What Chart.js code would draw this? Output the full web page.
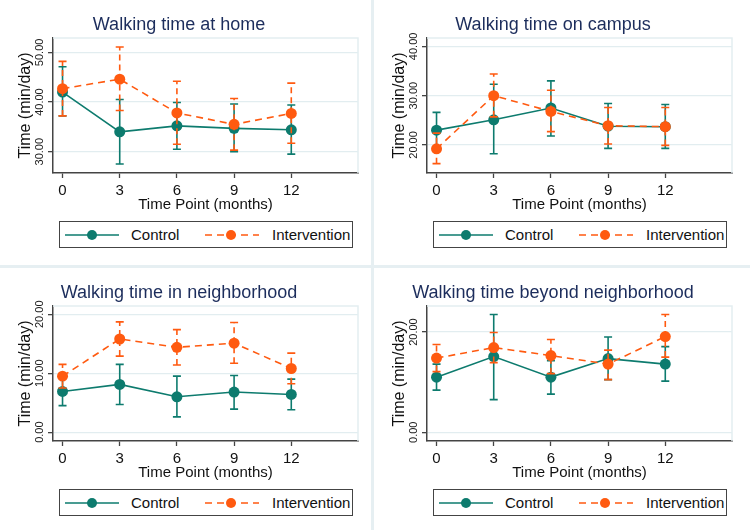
<!DOCTYPE html>
<html><head><meta charset="utf-8">
<script src="https://cdn.jsdelivr.net/npm/chart.js@4"></script>
<style>
html,body{margin:0;padding:0;background:#fff;}
#wrap{position:relative;width:750px;height:530px;overflow:hidden;background:#fff;font-family:"Liberation Sans",Arial,sans-serif;}
.panel{position:absolute;width:375px;height:265px;}
.panel canvas{position:absolute;left:0;top:0;}
.legend{position:absolute;left:59px;top:221px;width:292px;height:25px;border:1px solid #444;background:#fff;}
.legend span{position:absolute;top:3px;font-size:15px;color:#111;line-height:19px;white-space:nowrap;}
.legend svg{position:absolute;top:7px;}
.sep{position:absolute;background:#e6eff2;}
</style></head>
<body>
<div id="wrap">
  <div class="sep" style="left:371px;top:0;width:3px;height:530px;"></div>
  <div class="sep" style="left:0;top:265px;width:750px;height:3px;"></div>
</div>
<script>
const timePoints = [0, 3, 6, 9, 12];

const homeCtrl   = [42.0, 34.0, 35.2, 34.7, 34.4];
const homeCtrlLo = [37.2, 27.5, 30.5, 30.0, 29.5];
const homeCtrlHi = [47.1, 40.5, 39.9, 39.6, 39.4];
const homeInt    = [42.7, 44.6, 37.8, 35.5, 37.7];
const homeIntLo  = [37.2, 38.3, 31.5, 30.3, 31.7];
const homeIntHi  = [48.2, 51.1, 44.2, 40.7, 43.8];

const campusCtrl   = [23.0, 25.1, 27.5, 23.8, 23.7];
const campusCtrlLo = [19.4, 18.2, 21.8, 19.3, 19.3];
const campusCtrlHi = [26.6, 32.3, 33.0, 28.4, 28.2];
const campusInt    = [19.2, 30.0, 26.8, 23.9, 23.7];
const campusIntLo  = [16.2, 25.7, 22.7, 20.2, 19.9];
const campusIntHi  = [22.4, 34.4, 31.1, 27.6, 27.6];

const nbhdCtrl   = [6.9, 8.1, 6.0, 6.8, 6.4];
const nbhdCtrlLo = [4.5, 4.7, 2.6, 3.9, 3.8];
const nbhdCtrlHi = [9.4, 11.5, 9.5, 9.6, 9.0];
const nbhdInt    = [9.5, 15.8, 14.4, 15.1, 10.8];
const nbhdIntLo  = [7.5, 12.9, 11.4, 11.7, 8.2];
const nbhdIntHi  = [11.5, 18.7, 17.4, 18.6, 13.4];

const beyCtrl   = [11.0, 15.1, 11.0, 14.7, 13.6];
const beyCtrlLo = [8.4, 6.5, 7.6, 10.5, 10.2];
const beyCtrlHi = [13.6, 23.5, 14.3, 19.0, 17.1];
const beyInt    = [14.8, 16.9, 15.3, 13.6, 19.1];
const beyIntLo  = [12.1, 13.9, 11.7, 10.5, 15.0];
const beyIntHi  = [17.5, 19.9, 18.5, 16.4, 23.5];

const homeTicks = [30, 40, 50];
const campusTicks = [20, 30, 40];
const nbhdTicks = [0, 10, 20];
const beyTicks = [0, 20];

const seriesNames = ['Control', 'Intervention'];
const xTitle = 'Time Point (months)';
const yTitle = 'Time (min/day)';

const TEAL = '#0d7b6e';
const ORANGE = '#ff5a10';
const FONT = '"Liberation Sans", Arial, sans-serif';
Chart.defaults.font.family = FONT;

const errorBars = {
  id: 'errorBars',
  beforeDatasetDraw(chart, args) {
    const ds = chart.data.datasets[args.index];
    if (!ds.errLo) return;
    const ctx = chart.ctx, xs = chart.scales.x, ys = chart.scales.y;
    ctx.save();
    ctx.strokeStyle = ds.borderColor;
    ctx.lineWidth = 1.6;
    const dash = ds.borderDash || [];
    ds.data.forEach((p, i) => {
      const px = xs.getPixelForValue(p.x);
      const lo = ys.getPixelForValue(ds.errLo[i]);
      const hi = ys.getPixelForValue(ds.errHi[i]);
      ctx.setLineDash(dash.length ? [6, 4] : []);
      ctx.beginPath(); ctx.moveTo(px, lo); ctx.lineTo(px, hi); ctx.stroke();
      ctx.setLineDash([]);
      ctx.beginPath();
      ctx.moveTo(px - 4, lo); ctx.lineTo(px + 4, lo);
      ctx.moveTo(px - 4, hi); ctx.lineTo(px + 4, hi);
      ctx.stroke();
    });
    ctx.restore();
  }
};

const plotFrame = {
  id: 'plotFrame',
  beforeDatasetsDraw(chart) {
    const {ctx, chartArea: a} = chart;
    ctx.save();
    ctx.strokeStyle = '#e4eef1';
    ctx.lineWidth = 1.5;
    ctx.beginPath();
    ctx.moveTo(a.left, a.top); ctx.lineTo(a.right, a.top); ctx.lineTo(a.right, a.bottom);
    ctx.stroke();
    ctx.restore();
  }
};

function legendHTML() {
  return '<div class="legend">' +
    '<svg style="left:5px" width="54" height="12"><line x1="0" y1="6" x2="54" y2="6" stroke="' + TEAL + '" stroke-width="1.6"/><circle cx="27" cy="6" r="5" fill="' + TEAL + '"/></svg>' +
    '<span style="left:71px">' + seriesNames[0] + '</span>' +
    '<svg style="left:145px" width="54" height="12"><line x1="0" y1="6" x2="54" y2="6" stroke="' + ORANGE + '" stroke-width="1.6" stroke-dasharray="7,5"/><circle cx="26" cy="6" r="5" fill="' + ORANGE + '"/></svg>' +
    '<span style="left:212px">' + seriesNames[1] + '</span>' +
    '</div>';
}

function makePanel(left, top, title, yMin, yMax, yTicks, c, cLo, cHi, iv, iLo, iHi) {
  const wrap = document.getElementById('wrap');
  const div = document.createElement('div');
  div.className = 'panel';
  div.style.left = left + 'px';
  div.style.top = top + 'px';
  div.innerHTML = '<canvas width="375" height="265"></canvas>' + legendHTML();
  wrap.appendChild(div);
  const canvas = div.querySelector('canvas');
  new Chart(canvas, {
    type: 'line',
    data: {
      datasets: [
        {
          label: seriesNames[0],
          data: timePoints.map((t, i) => ({x: t, y: c[i]})),
          errLo: cLo, errHi: cHi,
          borderColor: TEAL, backgroundColor: TEAL,
          borderWidth: 1.6, pointRadius: 5.5, pointBorderWidth: 0,
          pointBackgroundColor: TEAL, order: 1
        },
        {
          label: seriesNames[1],
          data: timePoints.map((t, i) => ({x: t, y: iv[i]})),
          errLo: iLo, errHi: iHi,
          borderColor: ORANGE, backgroundColor: ORANGE,
          borderWidth: 1.6, borderDash: [7, 5], pointRadius: 5.5, pointBorderWidth: 0,
          pointBackgroundColor: ORANGE, order: 0
        }
      ]
    },
    options: {
      responsive: false, animation: false,
      layout: {padding: {left: 0, right: 17, top: 0, bottom: 50}},
      plugins: {
        legend: {display: false}, tooltip: {enabled: false},
        title: {display: true, text: title, color: '#1c2d5c',
          font: {size: 18, weight: 'normal', family: FONT}, padding: {top: 14, bottom: 2.4}}
      },
      scales: {
        x: {
          type: 'linear', min: -0.5, max: 15.5,
          afterBuildTicks: s => { s.ticks = timePoints.map(v => ({value: v})); },
          afterFit: s => { s.height = 42; },
          grid: {drawOnChartArea: false, tickLength: 5, tickColor: '#444', tickWidth: 1.3},
          border: {color: '#444', width: 1.5},
          ticks: {font: {size: 15}, color: '#111', padding: 4, maxRotation: 0, autoSkip: false},
          title: {display: true, text: xTitle, font: {size: 15}, color: '#111', padding: {top: 0, bottom: 1}}
        },
        y: {
          min: yMin, max: yMax,
          afterBuildTicks: s => { s.ticks = yTicks.map(v => ({value: v})); },
          afterFit: s => { s.width = 53; },
          grid: {color: '#e2edf0', lineWidth: 1.3, tickColor: '#444', tickLength: 5, tickWidth: 1.3},
          border: {color: '#444', width: 1.5},
          ticks: {font: {size: 11}, color: '#222', minRotation: 90, maxRotation: 90,
            crossAlign: 'center', padding: -5.5, autoSkip: false,
            callback: v => Number(v).toFixed(2)},
          title: {display: true, text: yTitle, font: {size: 16}, color: '#111', padding: {top: 16, bottom: 0}}
        }
      }
    },
    plugins: [plotFrame, errorBars]
  });
}

makePanel(0, 0, 'Walking time at home', 25.7, 52.9, homeTicks,
  homeCtrl, homeCtrlLo, homeCtrlHi, homeInt, homeIntLo, homeIntHi);
makePanel(374, 0, 'Walking time on campus', 14.3, 41.7, campusTicks,
  campusCtrl, campusCtrlLo, campusCtrlHi, campusInt, campusIntLo, campusIntHi);
makePanel(0, 268, 'Walking time in neighborhood', -1.5, 21.4, nbhdTicks,
  nbhdCtrl, nbhdCtrlLo, nbhdCtrlHi, nbhdInt, nbhdIntLo, nbhdIntHi);
makePanel(374, 268, 'Walking time beyond neighborhood', -1.75, 25.2, beyTicks,
  beyCtrl, beyCtrlLo, beyCtrlHi, beyInt, beyIntLo, beyIntHi);
</script>
</body></html>
